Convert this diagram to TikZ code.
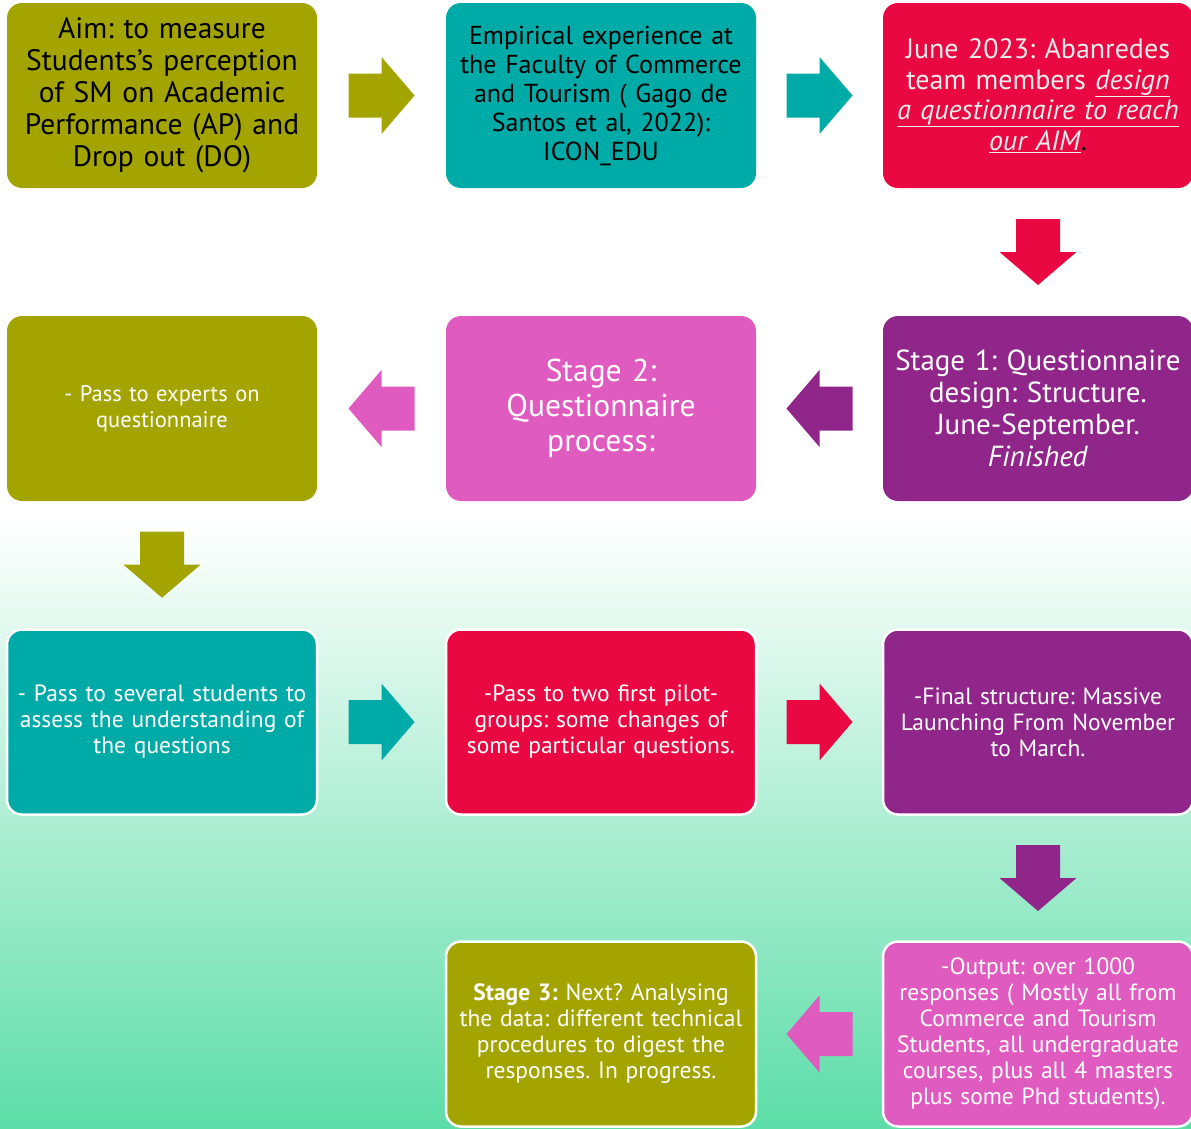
\documentclass[tikz,border=0pt]{standalone}
\usepackage{fontspec}
\setmainfont{PT Sans}
\usetikzlibrary{calc}
\frenchspacing
\definecolor{boxolive}{HTML}{A4A400}
\definecolor{boxteal}{HTML}{00AAA7}
\definecolor{boxred}{HTML}{E90841}
\definecolor{boxpurple}{HTML}{902689}
\definecolor{boxpink}{HTML}{E05BC0}
\definecolor{mint}{HTML}{5CDDA8}

\begin{document}
\begin{tikzpicture}[x=1pt, y=-1pt,
  card/.style = {rounded corners=15pt, minimum width=310pt, minimum height=185pt,
                 text width=310pt, align=center, inner sep=0pt, text=white},
  rim/.style = {draw=white, line width=2.5pt},
  blockarrow/.pic = {\fill (-33,-22) -- (0,-22) -- (0,-38.5) -- (33,0) -- (0,38.5) -- (0,22) -- (-33,22) -- cycle;}]
  % background
  \useasboundingbox (0,0) rectangle (1191,1128);
  \fill [white] (0,0) rectangle (1191,520);
  \shade [top color=white, bottom color=mint] (0,520) rectangle (1191,1128);
  % row 1
  \node [card, fill=boxolive, text=black, font=\fontsize{29.5}{32}\selectfont] (aim) at (162,95.5)
    {Aim: to measure\\ Students’s perception\\ of SM on Academic\\ Performance (AP) and\\ Drop out (DO)};
  \node [card, fill=boxteal, text=black, font=\fontsize{26}{29}\selectfont] (empirical) at (601,95.5)
    {Empirical experience at\\ the Faculty of Commerce\\ and Tourism ( Gago de\\ Santos et al, 2022):\\ ICON\_EDU};
  \node [card, fill=boxred, text=white!93!black, font=\fontsize{28}{30.5}\selectfont] (june) at (1038,95.5)
    {June 2023: Abanredes\\ team members \underline{\textit{design}}\\ \underline{\textit{a questionnaire to reach}}\\ \underline{\textit{our AIM}}\textcolor{black}{.}};
  % row 2
  \node [card, fill=boxpurple, font=\fontsize{29}{32}\selectfont] (stage1) at (1038,408.5)
    {Stage 1: Questionnaire\\ design: Structure.\\ June-September.\\ \textit{Finished}};
  \node [card, fill=boxpink, font=\fontsize{31.5}{35}\selectfont] (stage2) at (601,408.5)
    {Stage 2:\\ Questionnaire\\ process:};
  \node [card, fill=boxolive, font=\fontsize{22.5}{26}\selectfont] (experts) at (162,408.5)
    {- Pass to experts on\\ questionnaire};
  % row 3
  \node [card, rim, fill=boxteal, font=\fontsize{23.5}{26}\selectfont] (students) at (162,722)
    {- Pass to several students to\\ assess the understanding of\\ the questions};
  \node [card, rim, fill=boxred, font=\fontsize{23.5}{26}\selectfont] (pilot) at (601,722)
    {-Pass to two first pilot-\\ groups: some changes of\\ some particular questions.};
  \node [card, rim, fill=boxpurple, font=\fontsize{23.5}{26}\selectfont] (final) at (1038,722)
    {-Final structure: Massive\\ Launching From November\\ to March.};
  % row 4
  \node [card, rim, fill=boxpink, font=\fontsize{23.5}{26}\selectfont] (output) at (1038,1034)
    {-Output: over 1000\\ responses ( Mostly all from\\ Commerce and Tourism\\ Students, all undergraduate\\ courses, plus all 4 masters\\ plus some Phd students).};
  \node [card, rim, fill=boxolive, font=\fontsize{23.5}{26}\selectfont] (stage3) at (601,1034)
    {\textbf{Stage 3:} Next? Analysing\\ the data: different technical\\ procedures to digest the\\ responses. In progress.};
  % arrows
  \pic [boxolive] at ($(aim.east)!.5!(empirical.west)$) {blockarrow};
  \pic [boxteal] at ($(empirical.east)!.5!(june.west)$) {blockarrow};
  \pic [boxred, rotate=-90] at ($(june.south)!.5!(stage1.north)$) {blockarrow};
  \pic [boxpurple, rotate=180] at ($(stage1.west)!.5!(stage2.east)$) {blockarrow};
  \pic [boxpink, rotate=180] at ($(stage2.west)!.5!(experts.east)$) {blockarrow};
  \pic [boxolive, rotate=-90] at ($(experts.south)!.5!(students.north)$) {blockarrow};
  \pic [boxteal] at ($(students.east)!.5!(pilot.west)$) {blockarrow};
  \pic [boxred] at ($(pilot.east)!.5!(final.west)$) {blockarrow};
  \pic [boxpurple, rotate=-90] at ($(final.south)!.5!(output.north)$) {blockarrow};
  \pic [boxpink, rotate=180] at ($(output.west)!.5!(stage3.east)$) {blockarrow};
\end{tikzpicture}
\end{document}
